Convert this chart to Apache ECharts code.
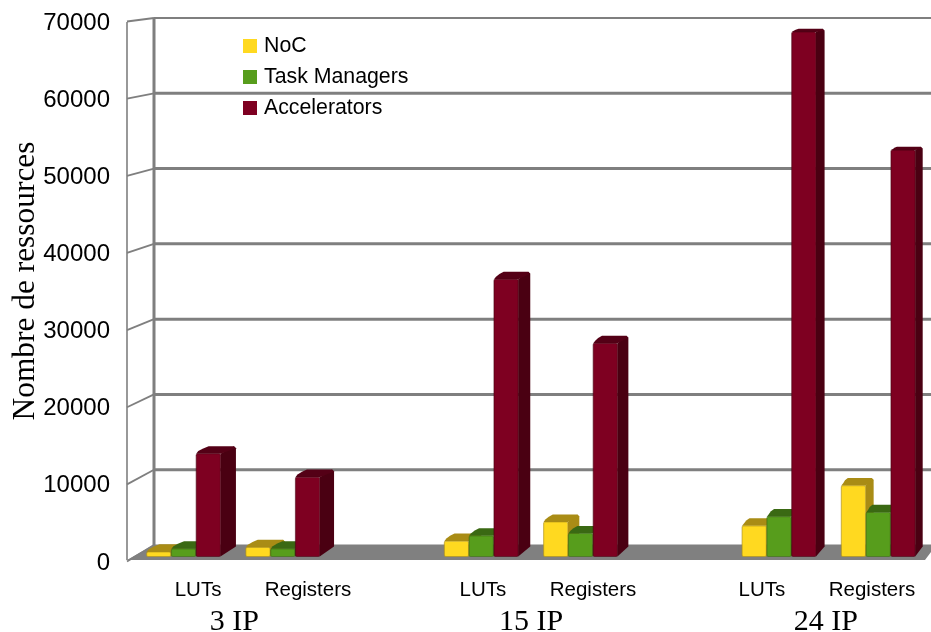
<!DOCTYPE html>
<html><head><meta charset="utf-8">
<style>html,body{margin:0;padding:0;background:#fff}#c{width:931px;height:632px}</style>
<script src="https://cdn.jsdelivr.net/npm/echarts@6/dist/echarts.min.js"></script>
</head><body><div id="c"></div>
<script>
const slots = ['LUTs','Registers','','LUTs','Registers','','LUTs','Registers'];
const noc = [600,1200,null,2000,4500,null,4000,9250];
const taskManagers = [1000,1000,null,2700,3000,null,5200,5750];
const accelerators = [13400,10350,null,36150,27800,null,68400,53000];
const yTicks = [0,10000,20000,30000,40000,50000,60000,70000];
const subLabels = ['LUTs','Registers','LUTs','Registers','LUTs','Registers'];
const subLabelAt = [0.635,1.743,3.506,4.615,6.317,7.426];
const groupLabels = ['3 IP','15 IP','24 IP'];
const groupLabelAt = [1,3.99,6.96];

const chart = echarts.init(document.getElementById('c'), null, {renderer:'canvas'});

function barSeries(name, values, idx, front, top, side){
  return {
    name, type:'custom', data:values.map((v,i)=>[i,v]), encode:{x:0,y:1}, xAxisIndex:0, yAxisIndex:0, z:3+idx, clip:false,
    itemStyle:{color:front},
    renderItem(params, api){
      const v = api.value(1);
      if (v == null || isNaN(v)) return null;
      const base = api.coord([params.dataIndex, 0]);
      const tip = api.coord([params.dataIndex, v]);
      const w = api.size([1,0])[0] / 4;
      const x0 = base[0] + (idx - 1.5) * w - 0.8, x1 = x0 + w - 0.6;
      const y0 = base[1] - 3.5, y1 = y0 + (tip[1] - base[1]) * 0.994;
      const dx = 15.5 - (x1 - 220) * 0.0115, dyB = 10, dyT = y1 < 200 ? 3.3 : 7.6;
      return {type:'group', children:[
        {type:'polygon', shape:{points:[[x1,y1],[x1+dx-2,y1-dyT],[x1+dx,y1-dyT+2],[x1+dx,y0-dyB],[x1,y0]]}, style:{fill:side}},
        {type:'polygon', shape:{points:[[x0,y1],[x0+2,y1-dyT*0.35],[x0+dx*0.45,y1-dyT*0.7],[x0+dx*0.8,y1-dyT],[x1+dx-2,y1-dyT],[x1+dx,y1-dyT+2],[x1,y1]]}, style:{fill:top}},
        {type:'rect', shape:{x:x0,y:y1,width:x1-x0,height:y0-y1,r:1.5}, style:{fill:front, stroke:side, lineWidth:1.2, strokeOpacity:0.55}}
      ]};
    }
  };
}

const walls = {
  type:'custom', data:yTicks.map(v=>[0,v]), encode:{x:0,y:1}, xAxisIndex:0, yAxisIndex:0, z:1, silent:true, clip:false, legendHoverLink:false,
  renderItem(params, api){
    const v = api.value(1);
    const p = api.coord([0, v]);
    const zero = api.coord([0, 0]);
    const top = api.coord([0, 70000]);
    const sz = api.size([1,0])[0];
    const xF = p[0] - sz/2 - 8, xB = xF + 27;
    const yB = 545 - (zero[1] - p[1]) * (527 / (zero[1] - top[1]));
    const kids = [];
    const col = '#7f7f7f';
    if (params.dataIndex === 0) {
      const xR = p[0] - sz/2 + sz*8 + 2;
      kids.push({type:'polygon', shape:{points:[[xF,zero[1]],[xB,544.5],[xR,544.5],[xR,552],[xR-6,zero[1]]]}, style:{fill:'#808080'}});
      kids.push({type:'line', shape:{x1:xF,y1:top[1]+2,x2:xF,y2:zero[1]}, style:{stroke:col,lineWidth:1.6}});
      kids.push({type:'line', shape:{x1:xB,y1:18,x2:xB,y2:545}, style:{stroke:col,lineWidth:3}});
    } else {
      kids.push({type:'line', shape:{x1:xB,y1:yB,x2:p[0]-sz/2+sz*8+2,y2:yB}, style:{stroke:col,lineWidth:v===70000?2:3}});
    }
    kids.push({type:'line', shape:{x1:xF,y1:p[1]+1.5,x2:xB,y2:yB}, style:{stroke:col,lineWidth:1.8}});
    return {type:'group', children:kids};
  }
};

function textAxis(at, labels, margin, style){
  return {
    type:'value', min:0, max:8, position:'bottom', gridIndex:0,
    axisLine:{show:false}, axisTick:{show:false}, splitLine:{show:false},
    axisLabel:Object.assign({customValues:at, margin, hideOverlap:false,
      formatter:(v)=>labels[at.indexOf(v)]}, style)
  };
}

chart.setOption({
  animation:false,
  backgroundColor:'#fff',
  grid:{left:135,top:20,width:794,height:540,outerBoundsMode:'none'},
  legend:{
    orient:'vertical', left:238, top:30, itemWidth:14, itemHeight:14, itemGap:9,
    icon:'rect', selectedMode:false,
    data:['NoC','Task Managers','Accelerators'],
    textStyle:{fontFamily:'Liberation Sans', fontSize:21.3, color:'#000', padding:[0,0,0,2], lineHeight:22}
  },
  xAxis:[
    {type:'category', data:slots, axisLine:{show:false}, axisTick:{show:false}, axisLabel:{show:false}, splitLine:{show:false}},
    textAxis(subLabelAt, subLabels, 20, {fontFamily:'Liberation Sans', fontSize:20.5, color:'#000'}),
    textAxis(groupLabelAt, groupLabels, 47.5, {fontFamily:'Liberation Serif', fontSize:30, color:'#000'})
  ],
  yAxis:[{
    type:'value', min:0, max:70000, interval:10000,
    name:'Nombre de ressources', nameLocation:'middle', nameGap:94, nameRotate:90, nameMoveOverlap:false,
    nameTextStyle:{fontFamily:'Liberation Serif', fontSize:31.4, color:'#000', padding:[0,0,0,18]},
    axisLine:{show:false}, axisTick:{show:false}, splitLine:{show:false},
    axisLabel:{margin:25, color:'#000', formatter:(v)=>'{t|'+v+'}',
      rich:{t:{fontFamily:'Liberation Sans', fontSize:24, color:'#000', padding:[6,0,0,0]}}}
  }],
  series:[
    walls,
    barSeries('NoC', noc, 0, '#ffd920', '#a98c15', '#a98c15'),
    barSeries('Task Managers', taskManagers, 1, '#579d1c', '#3a6913', '#3a6913'),
    barSeries('Accelerators', accelerators, 2, '#7e0021', '#540016', '#4a0012')
  ]
});
</script></body></html>
